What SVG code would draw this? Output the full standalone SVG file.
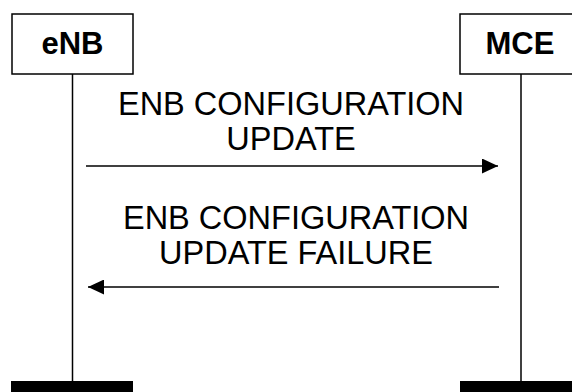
<svg xmlns="http://www.w3.org/2000/svg" width="572" height="392" viewBox="0 0 572 392">
<defs>
<style>
.box{fill:#fff;stroke:#000;stroke-width:1.5}
.life{stroke:#000;stroke-width:1.5}
.bar{fill:#000}
.name{font-family:"Liberation Sans",Arial,sans-serif;font-weight:bold;font-size:31px;text-anchor:middle}
.msg{font-family:"Liberation Sans",Arial,sans-serif;font-size:32.5px;text-anchor:middle}
.arrow{stroke:#000;stroke-width:1.5;fill:none}
</style>
<marker id="ah" markerWidth="16" markerHeight="15" refX="16" refY="7.5" orient="auto" markerUnits="userSpaceOnUse">
<path d="M0,0 L16,7.5 L0,15 Z" fill="#000"/>
</marker>
</defs>
<rect width="572" height="392" fill="#fff"/>
<g id="eNB">
<line class="life" x1="72.5" y1="74" x2="72.5" y2="382"/>
<rect class="box" x="12" y="14" width="121" height="60"/>
<text class="name" x="72.5" y="54">eNB</text>
<rect class="bar" x="11" y="381" width="122" height="11"/>
</g>
<g id="MCE">
<line class="life" x1="521" y1="74" x2="521" y2="382"/>
<rect class="box" x="460" y="14" width="122" height="60"/>
<text class="name" x="520" y="54">MCE</text>
<rect class="bar" x="460" y="381" width="112" height="11"/>
</g>
<g id="connectors">
<line class="arrow" x1="86" y1="166" x2="498" y2="166" marker-end="url(#ah)"/>
<line class="arrow" x1="499" y1="287" x2="88" y2="287" marker-end="url(#ah)"/>
</g>
<g id="labels">
<text class="msg" x="291" y="115">ENB CONFIGURATION</text>
<text class="msg" x="291" y="150">UPDATE</text>
<text class="msg" x="296" y="229">ENB CONFIGURATION</text>
<text class="msg" x="296" y="264">UPDATE FAILURE</text>
</g>
</svg>
